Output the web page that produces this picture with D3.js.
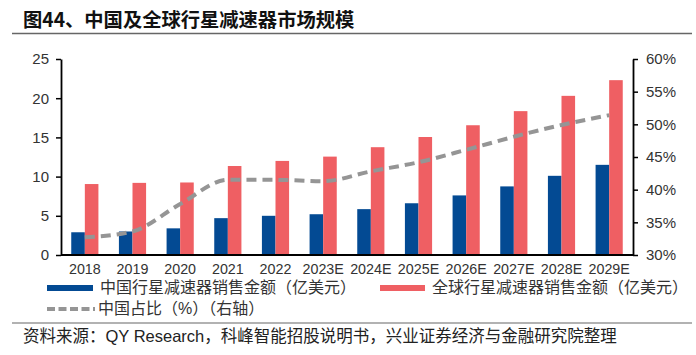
<!DOCTYPE html>
<html><head><meta charset="utf-8">
<script src="https://cdn.jsdelivr.net/npm/d3@7"></script>
<style>
body{margin:0;background:#fff;}
text{font-family:"Liberation Sans","Noto Sans CJK SC",sans-serif;}
</style></head>
<body><svg id="c" width="696" height="355"></svg>
<script>
const categories=["2018","2019","2020","2021","2022","2023E","2024E","2025E","2026E","2027E","2028E","2029E"];
const chinaSales=[2.9,3.0,3.4,4.7,5.0,5.2,5.85,6.6,7.6,8.75,10.1,11.5];
const globalSales=[9.05,9.2,9.25,11.35,12.0,12.55,13.75,15.05,16.55,18.35,20.3,22.3];
const chinaShare=[32.7,33.6,37.8,41.5,41.5,41.3,42.8,44.2,46.1,48.1,49.9,51.4];
const leftTicks=[0,5,10,15,20,25];
const rightTicks=[30,35,40,45,50,55,60];
const title="图44、中国及全球行星减速器市场规模";
const legendNames=["中国行星减速器销售金额（亿美元）","全球行星减速器销售金额（亿美元）","中国占比（%）（右轴）"];
const source="资料来源：QY Research，科峰智能招股说明书，兴业证券经济与金融研究院整理";

const svg=d3.select("#c");
const L=61,R=633,T=59,B=255;
const cjk='"Noto Sans CJK SC",sans-serif';
const mix='"Liberation Sans","Noto Sans CJK SC",sans-serif';

svg.append("text").attr("x",23).attr("y",27).text(title)
  .style("font-family",cjk).style("font-weight","bold").style("font-size","19.3px").attr("fill","#111");
svg.append("line").attr("x1",12).attr("x2",692).attr("y1",33.5).attr("y2",33.5).attr("stroke","#666").attr("stroke-width",1.5);

const x=d3.scaleBand().domain(categories).range([L,R]).paddingInner(0.43).paddingOuter(0.215);
const xs=d3.scaleBand().domain(["c","g"]).range([0,x.bandwidth()]);
const y=d3.scaleLinear().domain([0,25]).range([B,T]);
const y2=d3.scaleLinear().domain([30,60]).range([B,T]);

const g=svg.append("g");
g.selectAll("rect.c").data(categories).join("rect")
  .attr("x",d=>x(d)+xs("c")).attr("width",xs.bandwidth())
  .attr("y",(d,i)=>y(chinaSales[i])).attr("height",(d,i)=>B-y(chinaSales[i]))
  .attr("fill","#034a93");
g.selectAll("rect.g").data(categories).join("rect")
  .attr("x",d=>x(d)+xs("g")).attr("width",xs.bandwidth())
  .attr("y",(d,i)=>y(globalSales[i])).attr("height",(d,i)=>B-y(globalSales[i]))
  .attr("fill","#ef5f63");

const line=d3.line().x((d,i)=>x(categories[i])+x.bandwidth()/2).y(d=>y2(d)).curve(d3.curveMonotoneX);
svg.append("path").datum(chinaShare).attr("d",line).attr("fill","none")
  .attr("stroke","#959595").attr("stroke-width",4).attr("stroke-dasharray","10,6");

const ax=svg.append("g").attr("transform",`translate(${L},0)`)
  .call(d3.axisLeft(y).tickValues(leftTicks).tickSize(5).tickPadding(7).tickSizeOuter(0));
const ax2=svg.append("g").attr("transform",`translate(${R},0)`)
  .call(d3.axisRight(y2).tickValues(rightTicks).tickSize(5).tickPadding(8).tickSizeOuter(0).tickFormat(d=>d+"%"));
const axb=svg.append("g").attr("transform",`translate(0,${B})`)
  .call(d3.axisBottom(x).tickSize(0).tickPadding(9));
[ax,ax2,axb].forEach(a=>{
  a.selectAll("path").attr("stroke","#000").attr("stroke-width",1.8);
  a.selectAll("line").attr("stroke","#000").attr("stroke-width",1.5);
  a.selectAll("text").attr("fill","#333").style("font-size","15px").style("font-family",'"Liberation Sans",sans-serif');
});
axb.selectAll("text").style("font-size","14.3px");
axb.select("path").attr("d",`M${L},0H${R}`);

// legend
const lg=svg.append("g");
const lfs="16px";
lg.append("rect").attr("x",47).attr("y",285).attr("width",46).attr("height",6).attr("fill","#034a93");
lg.append("text").attr("x",100).attr("y",292.5).text(legendNames[0]).style("font-family",mix).style("font-size",lfs).attr("fill","#333");
lg.append("rect").attr("x",380).attr("y",285).attr("width",45).attr("height",6).attr("fill","#ef5f63");
lg.append("text").attr("x",432).attr("y",292.5).text(legendNames[1]).style("font-family",mix).style("font-size",lfs).attr("fill","#333");
lg.append("line").attr("x1",47).attr("x2",95).attr("y1",309).attr("y2",309).attr("stroke","#959595").attr("stroke-width",4).attr("stroke-dasharray","8,3.5");
lg.append("text").attr("x",98).attr("y",314).text(legendNames[2]).style("font-family",mix).style("font-size",lfs).attr("fill","#333");

svg.append("line").attr("x1",12).attr("x2",692).attr("y1",323).attr("y2",323).attr("stroke","#666").attr("stroke-width",1.2);
svg.append("text").attr("x",23).attr("y",342).text(source).style("font-family",mix).style("font-size","16.5px").attr("fill","#222");
</script></body></html>
